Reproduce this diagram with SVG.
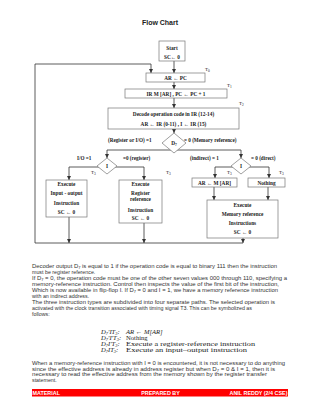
<svg xmlns="http://www.w3.org/2000/svg" width="320" height="414" viewBox="0 0 320 414">
<defs>
<marker id="ah" viewBox="0 0 6 6" refX="6" refY="3" markerWidth="4" markerHeight="4" orient="auto" markerUnits="userSpaceOnUse"><path d="M0,0 L6,3 L0,6 z" fill="#333"/></marker>
<style>
.box{fill:#fff;stroke:#777;stroke-width:0.7}
.dia{fill:#fff;stroke:#777;stroke-width:0.7}
.ln{fill:none;stroke:#333;stroke-width:0.8}
.ar{fill:none;stroke:#333;stroke-width:0.8;marker-end:url(#ah)}
.ft{font-family:"Liberation Serif","DejaVu Serif",serif;font-weight:bold;font-size:5.3px;fill:#222;text-anchor:middle}
.tl{font-family:"Liberation Serif",serif;font-size:5px;fill:#222}
.lb{font-family:"Liberation Serif","DejaVu Serif",serif;font-weight:bold;font-size:5.2px;fill:#222}
.p{font-family:"Liberation Sans",Arial,sans-serif;font-size:5.3px;fill:#333}
.s{font-family:"Liberation Serif","DejaVu Serif",serif;font-size:6.6px;fill:#222}
.ft2{font-family:"Liberation Sans",Arial,sans-serif;font-weight:bold;font-size:5.4px;fill:#fff}
</style>
</defs>
<rect width="320" height="414" fill="#fff"/>
<text x="160" y="24.5" font-family="Liberation Sans,Arial,sans-serif" font-weight="bold" font-size="7" fill="#222" text-anchor="middle">Flow Chart</text>

<g id="connectors">
<line class="ar" x1="174" y1="61" x2="174" y2="73"/>
<polyline class="ar" points="35,243 35,64 151,64 151,73"/>
<line class="ar" x1="174" y1="82" x2="174" y2="89"/>
<line class="ar" x1="174" y1="98" x2="174" y2="108"/>
<line class="ar" x1="174" y1="129" x2="174" y2="133"/>
<line class="ln" x1="107" y1="150" x2="241" y2="150"/>
<line class="ar" x1="107" y1="150" x2="107" y2="158"/>
<line class="ar" x1="241" y1="150" x2="241" y2="158"/>
<line class="ln" x1="69" y1="167" x2="144" y2="167"/>
<line class="ar" x1="69" y1="167" x2="69" y2="180"/>
<line class="ar" x1="144" y1="167" x2="144" y2="180"/>
<line class="ln" x1="215" y1="167" x2="269" y2="167"/>
<line class="ar" x1="215" y1="167" x2="215" y2="178"/>
<line class="ar" x1="269" y1="167" x2="269" y2="178"/>
<line class="ar" x1="214" y1="187" x2="214" y2="200"/>
<line class="ar" x1="268" y1="187" x2="268" y2="200"/>
<line class="ar" x1="69" y1="217" x2="69" y2="243"/>
<line class="ar" x1="144" y1="223" x2="144" y2="243"/>
<line class="ar" x1="243" y1="238" x2="243" y2="243"/>
<line class="ln" x1="35" y1="243" x2="243" y2="243"/>
</g>

<g id="start">
<rect class="box" x="159" y="41" width="26" height="20"/>
<text class="ft" x="172" y="49.5">Start</text>
<text class="ft" x="172" y="58.5">SC← 0</text>
</g>
<g id="fetch0">
<rect class="box" x="146" y="73" width="59" height="9"/>
<text class="ft" x="175.5" y="79.5">AR ←  PC</text>
<text class="tl" x="205" y="71">T<tspan font-size="3.5" dy="1">0</tspan></text>
</g>
<g id="fetch1">
<rect class="box" x="125" y="89" width="102" height="9"/>
<text class="ft" x="176" y="95.5">IR  M [AR] ,  PC ← PC + 1</text>
<text class="tl" x="227" y="87">T<tspan font-size="3.5" dy="1">1</tspan></text>
</g>
<g id="decode">
<rect class="box" x="108" y="108" width="131" height="21"/>
<text class="ft" x="173.5" y="116">Decode operation code in IR (12-14)</text>
<text class="ft" x="173.5" y="126">AR ←  IR (0-11) , I ← IR (15)</text>
<text class="tl" x="239" y="105">T<tspan font-size="3.5" dy="1">2</tspan></text>
</g>
<g id="d7">
<polygon class="dia" points="174,133 186,143 174,153 162,143"/>
<text class="ft" x="174" y="145">D<tspan font-size="3.6" dy="1">7</tspan></text>
<text class="lb" x="108" y="141.5">(Register or I/O)   =1</text>
<text class="lb" x="184" y="141.5">=  0  (Memory reference)</text>
</g>
<g id="i-left">
<polygon class="dia" points="107,158 117,166 107,174 97,166"/>
<text class="ft" x="107" y="168">I</text>
<text class="lb" x="77" y="160">I/O   =1</text>
<text class="lb" x="123" y="160">=0  (register)</text>
<text class="tl" x="91" y="174">T<tspan font-size="3.5" dy="1">3</tspan></text>
<text class="tl" x="166" y="174">T<tspan font-size="3.5" dy="1">3</tspan></text>
</g>
<g id="i-right">
<polygon class="dia" points="241,158 251,166 241,174 231,166"/>
<text class="ft" x="241" y="168">I</text>
<text class="lb" x="190" y="160">(indirect) = 1</text>
<text class="lb" x="251" y="160">= 0  (direct)</text>
<text class="tl" x="227" y="174">T<tspan font-size="3.5" dy="1">3</tspan></text>
<text class="tl" x="279" y="174">T<tspan font-size="3.5" dy="1">3</tspan></text>
</g>
<g id="exec-io">
<rect class="box" x="46" y="180" width="41" height="37"/>
<text class="ft" x="66.5" y="186">Execute</text>
<text class="ft" x="66.5" y="195">Input - output</text>
<text class="ft" x="66.5" y="204.5">Instruction</text>
<text class="ft" x="66.5" y="214">SC ←  0</text>
</g>
<g id="exec-reg">
<rect class="box" x="119" y="180" width="43" height="43"/>
<text class="ft" x="140.5" y="186">Execute</text>
<text class="ft" x="140.5" y="195">Register</text>
<text class="ft" x="140.5" y="201">reference</text>
<text class="ft" x="140.5" y="211.5">Instruction</text>
<text class="ft" x="140.5" y="220">SC ←  0</text>
</g>
<g id="indirect">
<rect class="box" x="192" y="178" width="45" height="9"/>
<text class="ft" x="214.5" y="184.5">AR ←  M [AR]</text>
</g>
<g id="nothing">
<rect class="box" x="248" y="178" width="37" height="9"/>
<text class="ft" x="266.5" y="184.5">Nothing</text>
</g>
<g id="exec-mem">
<rect class="box" x="207" y="200" width="71" height="38"/>
<text class="ft" x="242.5" y="207">Execute</text>
<text class="ft" x="242.5" y="216">Memory reference</text>
<text class="ft" x="242.5" y="225">Instructions</text>
<text class="ft" x="242.5" y="234">SC ←  0</text>
</g>

<g id="text">
<text class="p" x="32" y="268" textLength="245" lengthAdjust="spacingAndGlyphs">Decoder output D<tspan font-size="3.6" dy="1">7</tspan><tspan dy="-1"> is equal to 1 if the operation code is equal to binary 111 then the instruction</tspan></text>
<text class="p" x="32" y="274">must be register reference.</text>
<text class="p" x="32" y="280" textLength="255" lengthAdjust="spacingAndGlyphs">If D<tspan font-size="3.6" dy="1">7</tspan><tspan dy="-1"> = 0, the operation code must be one of the other seven values 000 through 110, specifying a</tspan></text>
<text class="p" x="32" y="286" textLength="247" lengthAdjust="spacingAndGlyphs">memory-reference instruction. Control then inspects the value of the first bit of the instruction,</text>
<text class="p" x="32" y="292" textLength="246" lengthAdjust="spacingAndGlyphs">Which is now available in flip-flop I. If D<tspan font-size="3.6" dy="1">7</tspan><tspan dy="-1"> = 0 and I = 1, we have a memory reference instruction</tspan></text>
<text class="p" x="32" y="298">with an indirect address.</text>
<text class="p" x="32" y="304" textLength="243" lengthAdjust="spacingAndGlyphs">The three instruction types are subdivided into four separate paths. The selected operation is</text>
<text class="p" x="32" y="310" textLength="220" lengthAdjust="spacingAndGlyphs">activated with the clock transition associated with timing signal T3. This can be symbolized as</text>
<text class="p" x="32" y="316">follows:</text>

<text class="s" x="101" y="334"><tspan font-style="italic">D<tspan font-size="4.4" dy="1">7</tspan><tspan dy="-1">′IT</tspan><tspan font-size="4.4" dy="1">3</tspan><tspan dy="-1">:</tspan></tspan></text>
<text class="s" x="126" y="334" font-style="italic">AR ← M[AR]</text>
<text class="s" x="101" y="340"><tspan font-style="italic">D<tspan font-size="4.4" dy="1">7</tspan><tspan dy="-1">′I′T</tspan><tspan font-size="4.4" dy="1">3</tspan><tspan dy="-1">:</tspan></tspan></text>
<text class="s" x="126" y="340">Nothing</text>
<text class="s" x="101" y="346"><tspan font-style="italic">D<tspan font-size="4.4" dy="1">7</tspan><tspan dy="-1">I′T</tspan><tspan font-size="4.4" dy="1">3</tspan><tspan dy="-1">:</tspan></tspan></text>
<text class="s" x="126" y="346" textLength="129" lengthAdjust="spacingAndGlyphs">Execute a register-reference instruction</text>
<text class="s" x="101" y="352"><tspan font-style="italic">D<tspan font-size="4.4" dy="1">7</tspan><tspan dy="-1">IT</tspan><tspan font-size="4.4" dy="1">3</tspan><tspan dy="-1">:</tspan></tspan></text>
<text class="s" x="126" y="352" textLength="121" lengthAdjust="spacingAndGlyphs">Execute an input–output instruction</text>

<text class="p" x="32" y="365" textLength="253" lengthAdjust="spacingAndGlyphs">When a memory-reference instruction with I = 0 is encountered, it is not necessary to do anything</text>
<text class="p" x="32" y="370.5" textLength="243" lengthAdjust="spacingAndGlyphs">since the effective address is already in address register but when D<tspan font-size="3.6" dy="1">7</tspan><tspan dy="-1"> = 0 &amp; I = 1, then it is</tspan></text>
<text class="p" x="32" y="376" textLength="235" lengthAdjust="spacingAndGlyphs">necessary to read the effective address from the memory shown by the register transfer</text>
<text class="p" x="32" y="381.5">statement.</text>
</g>

<g id="footer">
<rect x="32" y="389" width="256" height="7.5" fill="#ff0000"/>
<text class="ft2" x="32.5" y="394.7">MATERIAL</text>
<text class="ft2" x="160.5" y="394.7" text-anchor="middle">PREPARED BY</text>
<text class="ft2" x="287.5" y="394.7" text-anchor="end">ANIL REDDY (2/4 CSE)</text>
</g>
</svg>
